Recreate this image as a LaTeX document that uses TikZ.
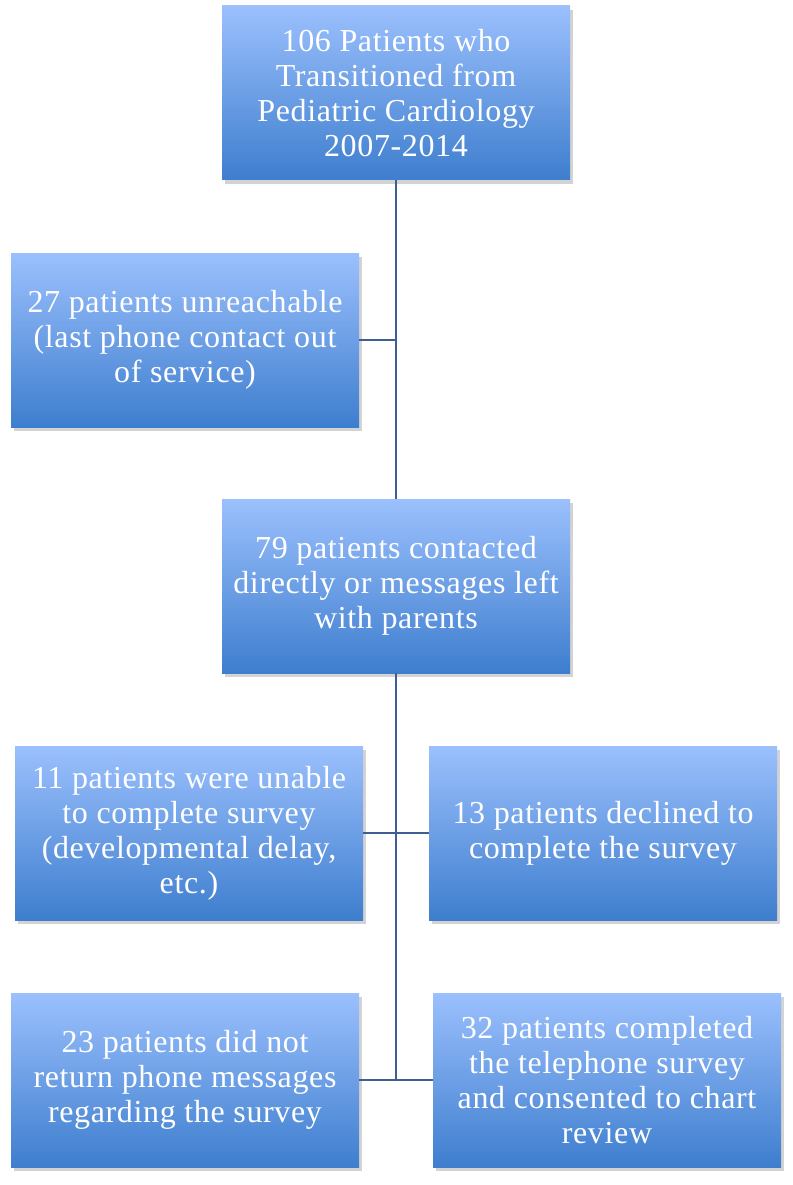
\documentclass[tikz,border=0pt]{standalone}
\usepackage{fontspec}
\setmainfont{Liberation Serif}[LetterSpace=2]
\usepackage{tikz}
\usetikzlibrary{shadows}

\definecolor{boxtop}{RGB}{155,192,253}
\definecolor{boxbot}{RGB}{62,126,206}
\definecolor{linkblue}{RGB}{62,96,145}

\begin{document}
\begin{tikzpicture}[x=1pt, y=-1pt,
    flowbox/.style={rectangle, minimum width=348pt, minimum height=174pt, inner sep=2pt,
        top color=boxtop, bottom color=boxbot, draw=none, text=white, align=center,
        font=\fontsize{32}{35}\selectfont,
        drop shadow={opacity=0.35, shadow xshift=3pt, shadow yshift=-4pt}},
    link/.style={draw=linkblue, line width=2pt}]
        \useasboundingbox (0,0) rectangle (792,1185);

        % Define the boxes
        \node[flowbox] (total) at (396,93) {106 Patients who\\Transitioned from\\Pediatric Cardiology\\2007-2014};
        \node[flowbox] (unreach) at (185,340) {27 patients unreachable\\(last phone contact out\\of service)};
        \node[flowbox] (contacted) at (396,586) {79 patients contacted\\directly or messages left\\with parents};
        \node[flowbox] (unable) at (189,833) {11 patients were unable\\to complete survey\\(developmental delay,\\etc.)};
        \node[flowbox] (declined) at (603,833) {13 patients declined to\\complete the survey};
        \node[flowbox] (noreply) at (185,1080) {23 patients did not\\return phone messages\\regarding the survey};
        \node[flowbox] (done) at (607,1080) {32 patients completed\\the telephone survey\\and consented to chart\\review};

        % Define the connectors
        \draw[link] (total.south) -- (contacted.north);
        \draw[link] (unreach.east) -- (unreach.east -| total.south);
        \draw[link] (contacted.south) -- (contacted.south |- done.west);
        \draw[link] (unable.east) -- (declined.west);
        \draw[link] (noreply.east) -- (done.west);

    \end{tikzpicture}
\end{document}
